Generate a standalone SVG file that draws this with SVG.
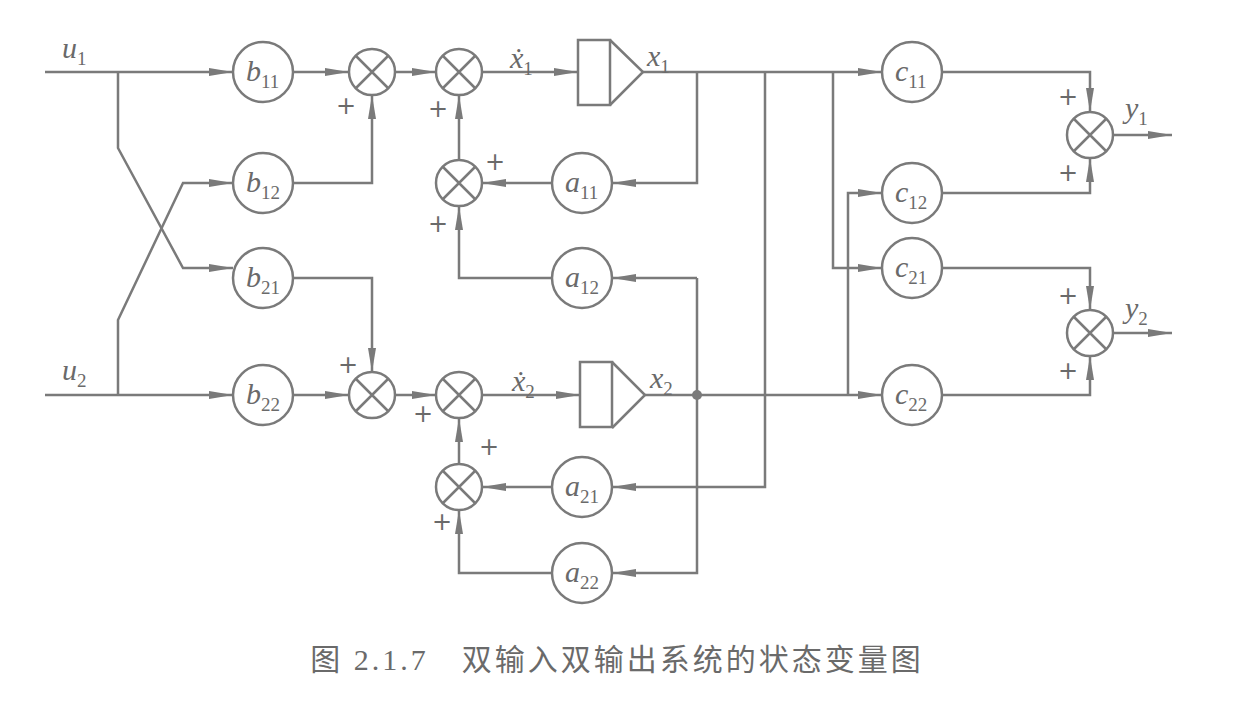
<svg xmlns="http://www.w3.org/2000/svg" width="1234" height="712" viewBox="0 0 1234 712">
<style>
.l{fill:none;stroke:#7a7a7a;stroke-width:2.5}
.c{fill:#fff;stroke:#7a7a7a;stroke-width:2.5}
.t{font-family:"Liberation Serif",serif;font-style:italic;font-size:30px;fill:#6a6a6a}
.s{font-size:19px;font-style:normal}
.p{font-family:"DejaVu Sans",sans-serif;font-size:24px;fill:#6a6a6a}
.cap{font-family:"Liberation Serif","Noto Sans CJK SC",serif;font-size:30px;fill:#6a6a6a;letter-spacing:3px}
</style>
<defs>
<marker id="a" markerWidth="26" markerHeight="10" refX="24" refY="5" orient="auto" markerUnits="userSpaceOnUse"><path d="M0,1 L24,5 L0,9 Z" fill="#7a7a7a"/></marker>
<g id="sum"><circle r="23" class="c"/><path d="M-16,-16 L16,16 M16,-16 L-16,16" class="l"/></g>
</defs>
<g id="connectors" class="l">
<path d="M45,72 H233" marker-end="url(#a)"/>
<path d="M118,72 V148 L183,268 H233" marker-end="url(#a)"/>
<path d="M45,395 H233" marker-end="url(#a)"/>
<path d="M118,395 V320 L183,183 H233" marker-end="url(#a)"/>
<path d="M293,72 H349" marker-end="url(#a)"/>
<path d="M293,183 H372 V95" marker-end="url(#a)"/>
<path d="M293,278 H372 V372" marker-end="url(#a)"/>
<path d="M293,395 H349" marker-end="url(#a)"/>
<path d="M395,72 H436" marker-end="url(#a)"/>
<path d="M395,395 H436" marker-end="url(#a)"/>
<path d="M482,72 H578" marker-end="url(#a)"/>
<path d="M482,395 H580" marker-end="url(#a)"/>
<path d="M643,72 H882" marker-end="url(#a)"/>
<path d="M645,395 H882" marker-end="url(#a)"/>
<path d="M697,72 V183 H612" marker-end="url(#a)"/>
<path d="M552,183 H482" marker-end="url(#a)"/>
<path d="M459,160 V95" marker-end="url(#a)"/>
<path d="M552,278 H459 V206" marker-end="url(#a)"/>
<path d="M697,278 H612" marker-end="url(#a)"/>
<path d="M697,278 V573 H612" marker-end="url(#a)"/>
<path d="M765,72 V487 H612" marker-end="url(#a)"/>
<path d="M552,487 H482" marker-end="url(#a)"/>
<path d="M459,464 V418" marker-end="url(#a)"/>
<path d="M552,573 H459 V510" marker-end="url(#a)"/>
<path d="M833,72 V268 H882" marker-end="url(#a)"/>
<path d="M848,395 V193 H882" marker-end="url(#a)"/>
<path d="M942,72 H1090 V112" marker-end="url(#a)"/>
<path d="M942,193 H1090 V158" marker-end="url(#a)"/>
<path d="M942,268 H1090 V310" marker-end="url(#a)"/>
<path d="M942,395 H1090 V356" marker-end="url(#a)"/>
<path d="M1113,135 H1172" marker-end="url(#a)"/>
<path d="M1113,333 H1172" marker-end="url(#a)"/>
</g>
<circle cx="697" cy="395" r="5" fill="#7a7a7a"/>
<g id="b11"><circle cx="263" cy="72" r="30" class="c"/><text x="246" y="81" class="t">b<tspan class="s" dy="7">11</tspan></text></g>
<g id="b12"><circle cx="263" cy="183" r="30" class="c"/><text x="246" y="192" class="t">b<tspan class="s" dy="7">12</tspan></text></g>
<g id="b21"><circle cx="263" cy="278" r="30" class="c"/><text x="246" y="287" class="t">b<tspan class="s" dy="7">21</tspan></text></g>
<g id="b22"><circle cx="263" cy="395" r="30" class="c"/><text x="246" y="404" class="t">b<tspan class="s" dy="7">22</tspan></text></g>
<g id="a11"><circle cx="582" cy="183" r="30" class="c"/><text x="565" y="192" class="t">a<tspan class="s" dy="7">11</tspan></text></g>
<g id="a12"><circle cx="582" cy="278" r="30" class="c"/><text x="565" y="287" class="t">a<tspan class="s" dy="7">12</tspan></text></g>
<g id="a21"><circle cx="582" cy="487" r="30" class="c"/><text x="565" y="496" class="t">a<tspan class="s" dy="7">21</tspan></text></g>
<g id="a22"><circle cx="582" cy="573" r="30" class="c"/><text x="565" y="582" class="t">a<tspan class="s" dy="7">22</tspan></text></g>
<g id="c11"><circle cx="912" cy="72" r="30" class="c"/><text x="895" y="81" class="t">c<tspan class="s" dy="7">11</tspan></text></g>
<g id="c12"><circle cx="912" cy="193" r="30" class="c"/><text x="895" y="202" class="t">c<tspan class="s" dy="7">12</tspan></text></g>
<g id="c21"><circle cx="912" cy="268" r="30" class="c"/><text x="895" y="277" class="t">c<tspan class="s" dy="7">21</tspan></text></g>
<g id="c22"><circle cx="912" cy="395" r="30" class="c"/><text x="895" y="404" class="t">c<tspan class="s" dy="7">22</tspan></text></g>
<g id="s1"><use href="#sum" x="372" y="72"/></g>
<g id="s2"><use href="#sum" x="459" y="72"/></g>
<g id="s3"><use href="#sum" x="459" y="183"/></g>
<g id="s4"><use href="#sum" x="372" y="395"/></g>
<g id="s5"><use href="#sum" x="459" y="395"/></g>
<g id="s6"><use href="#sum" x="459" y="487"/></g>
<g id="sy1"><use href="#sum" x="1090" y="135"/></g>
<g id="sy2"><use href="#sum" x="1090" y="333"/></g>
<g id="int1"><rect x="578" y="40" width="32" height="65" class="c"/><path d="M610,40 L643,72 L610,105" class="l"/></g>
<g id="int2"><rect x="580" y="362" width="32" height="65" class="c"/><path d="M612,362 L645,395 L612,428" class="l"/></g>
<g id="labels">
<text x="62" y="58" class="t">u<tspan class="s" dy="7">1</tspan></text>
<text x="62" y="380" class="t">u<tspan class="s" dy="7">2</tspan></text>
<text x="510" y="68" class="t">ẋ<tspan class="s" dy="7">1</tspan></text>
<text x="512" y="391" class="t">ẋ<tspan class="s" dy="7">2</tspan></text>
<text x="647" y="66" class="t">x<tspan class="s" dy="7">1</tspan></text>
<text x="650" y="388" class="t">x<tspan class="s" dy="7">2</tspan></text>
<text x="1125" y="118" class="t">y<tspan class="s" dy="7">1</tspan></text>
<text x="1125" y="318" class="t">y<tspan class="s" dy="7">2</tspan></text>
<text x="336" y="114" class="p">+</text>
<text x="428" y="117" class="p">+</text>
<text x="485" y="170" class="p">+</text>
<text x="428" y="232" class="p">+</text>
<text x="338" y="373" class="p">+</text>
<text x="413" y="422" class="p">+</text>
<text x="479" y="455" class="p">+</text>
<text x="432" y="530" class="p">+</text>
<text x="1058" y="105" class="p">+</text>
<text x="1058" y="181" class="p">+</text>
<text x="1058" y="304" class="p">+</text>
<text x="1058" y="379" class="p">+</text>
<text x="617" y="670" class="cap" text-anchor="middle">图 2.1.7　双输入双输出系统的状态变量图</text>
</g>
</svg>
